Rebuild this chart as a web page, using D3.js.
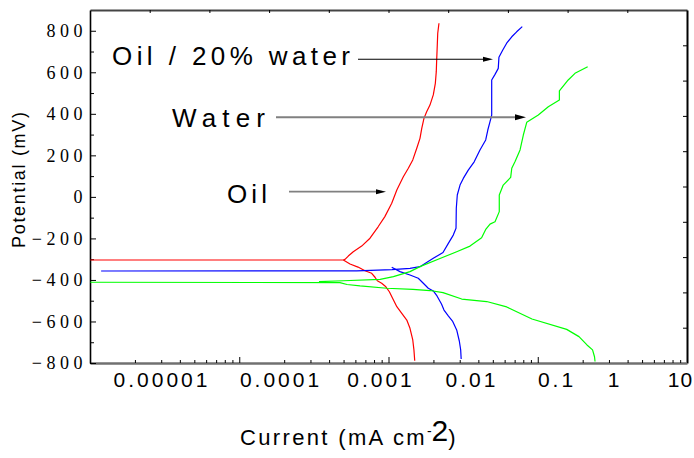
<!DOCTYPE html>
<html><head><meta charset="utf-8">
<script src="https://cdn.jsdelivr.net/npm/d3@7"></script>
<style>
body{margin:0;background:#fff;}
svg{display:block;}
</style></head><body>
<svg id="chart" width="694" height="458"></svg>
<script>
// ---------- data ----------
const xTickValues = [1e-5, 1e-4, 1e-3, 1e-2, 1e-1, 1, 10];
const xTickLabels = ["0.00001", "0.0001", "0.001", "0.01", "0.1", "1", "10"];
const yTickValues = [-800, -600, -400, -200, 0, 200, 400, 600, 800];
const yMinorTickValues = [-700, -500, -300, -100, 100, 300, 500, 700];
const annotationLabels = ["Oil / 20% water", "Water", "Oil"];

// Oil (red)
const oilCathodicCurrent = [4.40e-4, 5.13e-4, 6.17e-4, 7.24e-4, 8.45e-4, 9.12e-4, 9.62e-4, 1.07e-3, 1.19e-3, 1.30e-3, 1.41e-3, 1.57e-3, 1.78e-3, 2.02e-3, 2.19e-3, 2.35e-3, 2.42e-3, 2.47e-3];
const oilCathodicPotential = [-304, -323, -338, -356, -368, -387, -404, -416, -433, -457, -488, -529, -561, -593, -633, -689, -737, -789];
const oilAnodicCurrent = [2.6e-6, 4.40e-4, 4.57e-4, 4.93e-4, 5.53e-4, 6.71e-4, 8.13e-4, 9.8e-4, 1.16e-3, 1.38e-3, 1.57e-3, 1.85e-3, 2.10e-3, 2.35e-3, 2.60e-3, 2.82e-3, 2.95e-3, 3.12e-3, 3.34e-3, 3.63e-3, 3.95e-3, 4.16e-3, 4.26e-3, 4.31e-3, 4.37e-3, 4.42e-3, 4.56e-3];
const oilAnodicPotential = [-304, -304, -301, -285, -264, -237, -199, -144, -95, -31, 33, 97, 138, 178, 234, 282, 330, 378, 410, 442, 491, 547, 603, 667, 731, 788, 836];

// Oil / 20% water (blue)
const mixCathodicCurrent = [1.38e-3, 1.70e-3, 2.19e-3, 2.70e-3, 3.07e-3, 3.48e-3, 3.95e-3, 4.34e-3, 4.86e-3, 5.18e-3, 5.80e-3, 6.42e-3, 7.14e-3, 7.63e-3, 7.90e-3, 8.00e-3];
const mixCathodicPotential = [-339, -360, -376, -392, -416, -440, -453, -477, -516, -545, -574, -598, -641, -694, -737, -781];
const mixAnodicCurrent = [3.2e-6, 5.98e-4, 1.39e-3, 2.19e-3, 2.82e-3, 3.95e-3, 5.05e-3, 5.78e-3, 6.55e-3, 7.02e-3, 7.07e-3, 7.25e-3, 7.77e-3, 8.44e-3, 9.57e-3, 0.0112, 0.0131, 0.0153, 0.0162, 0.0172, 0.0180, 0.0180, 0.0180, 0.0197, 0.0215, 0.0219, 0.0243, 0.0270, 0.0310, 0.0354, 0.0412];
const mixAnodicPotential = [-357, -356, -350, -344, -336, -296, -268, -224, -184, -151, -55, 9, 57, 89, 129, 169, 226, 274, 322, 362, 394, 491, 563, 590, 619, 672, 707, 740, 771, 795, 820];

// Water (green)
const waterCathodicCurrent = [2.6e-6, 4.07e-4, 4.79e-4, 6.46e-4, 1.22e-3, 2.36e-3, 3.63e-3, 5.05e-3, 8.11e-3, 0.0157, 0.0270, 0.0536, 0.159, 0.259, 0.356, 0.444, 0.480, 0.490];
const waterCathodicPotential = [-411, -413, -422, -429, -440, -445, -451, -461, -492, -504, -530, -588, -638, -673, -713, -737, -770, -793];
const waterAnodicCurrent = [2.51e-4, 4.40e-4, 1.03e-3, 1.44e-3, 2.19e-3, 2.82e-3, 4.68e-3, 7.14e-3, 0.0100, 0.0137, 0.0154, 0.0172, 0.0197, 0.0221, 0.0221, 0.0246, 0.0301, 0.0310, 0.0338, 0.0388, 0.0424, 0.0465, 0.0636, 0.0834, 0.119, 0.119, 0.169, 0.221, 0.366];
const waterAnodicPotential = [-408, -404, -397, -384, -360, -336, -297, -264, -237, -197, -155, -131, -120, -71, 9, 57, 94, 138, 169, 226, 298, 359, 394, 434, 467, 510, 563, 595, 627];

// ---------- layout ----------
const L = 90, R = 687, T = 10, B = 363;
const svg = d3.select('#chart');
const sans = "'Liberation Sans', Arial, sans-serif";
const serif = "'Liberation Serif', 'Times New Roman', serif";

// data x scale (piecewise log, matching the printed labels)
const x = d3.scaleLog().domain(xTickValues).range([160, 279, 379, 470, 555, 613, 680]);
const y = d3.scaleLinear().domain([-800, 900]).range([B, T]);

// frame tick scales
const xFrame = d3.scaleLog().domain([1, 1e4]).range([L, R]);
const topScale = d3.scaleLinear().domain([0, 10]).range([L, R]);
const rightScale = d3.scaleLinear().domain([0, 10]).range([B, T]);

// top axis
const gTop = svg.append('g').attr('transform', `translate(0,${T})`)
  .call(d3.axisTop(topScale).tickValues(d3.range(1, 10)).tickSizeInner(-3).tickSizeOuter(0).tickFormat(''));
gTop.select('.domain').attr('stroke', '#444').attr('stroke-width', 2);
gTop.selectAll('.tick line').attr('stroke', '#000');

// right axis
const gRight = svg.append('g').attr('transform', `translate(${R},0)`)
  .call(d3.axisRight(rightScale).tickValues(d3.range(1, 10)).tickSizeInner(-4).tickSizeOuter(0).tickFormat(''));
gRight.select('.domain').attr('stroke', '#000').attr('stroke-width', 2);

// bottom frame ticks
const gBot = svg.append('g').attr('transform', `translate(0,${B})`)
  .call(d3.axisBottom(xFrame).tickSizeInner(-3).tickSizeOuter(0).tickFormat(''));
gBot.selectAll('.tick line')
  .attr('y2', d => (Math.abs(Math.log10(d) - Math.round(Math.log10(d))) < 1e-9 ? -6 : -3))
  .attr('stroke', '#000');
gBot.select('.domain').attr('stroke', '#707070').attr('stroke-width', 2.5);

// x tick labels
const gXLab = svg.append('g').attr('transform', `translate(0,${B})`)
  .call(d3.axisBottom(x).tickValues(xTickValues).tickFormat((d, i) => xTickLabels[i]).tickSize(0).tickPadding(9));
gXLab.select('.domain').remove();
gXLab.selectAll('text')
  .style('font-family', sans).style('font-size', '21px')
  .style('letter-spacing', (d, i) => i === xTickLabels.length - 1 ? '1px' : '3px')
  .attr('dx', (d, i) => i === xTickLabels.length - 1 ? 0 : 1.5).attr('fill', '#000');

// left axis
const gLeft = svg.append('g').attr('transform', `translate(${L},0)`)
  .call(d3.axisLeft(y).tickValues(yTickValues).tickSizeInner(-6).tickSizeOuter(0).tickPadding(3));
gLeft.select('.domain').attr('stroke', '#000').attr('stroke-width', 1.6);
gLeft.selectAll('text')
  .style('font-family', serif).style('font-size', '18px').style('letter-spacing', '4.5px').attr('fill', '#000');
const gLeftMinor = svg.append('g').attr('transform', `translate(${L},0)`)
  .call(d3.axisLeft(y).tickValues(yMinorTickValues).tickSize(-4).tickFormat(''));
gLeftMinor.select('.domain').remove();

// curves
const line = d3.line().x(d => x(d[0])).y(d => y(d[1]));
const series = [
  [oilCathodicCurrent, oilCathodicPotential, '#ff0000'],
  [oilAnodicCurrent, oilAnodicPotential, '#ff0000'],
  [mixCathodicCurrent, mixCathodicPotential, '#0000ff'],
  [mixAnodicCurrent, mixAnodicPotential, '#0000ff'],
  [waterCathodicCurrent, waterCathodicPotential, '#00ff00'],
  [waterAnodicCurrent, waterAnodicPotential, '#00ff00']
];
svg.append('g').selectAll('path').data(series).join('path')
  .attr('d', s => line(d3.zip(s[0], s[1])))
  .attr('fill', 'none').attr('stroke', s => s[2]).attr('stroke-width', 1.2)
  .attr('stroke-linejoin', 'round');

// annotations
const ann = svg.append('g').style('font-family', sans).style('font-size', '26px').attr('fill', '#000');
ann.append('text').attr('x', 112).attr('y', 65).attr('textLength', 238).attr('lengthAdjust', 'spacing').text(annotationLabels[0]);
ann.append('text').attr('x', 172).attr('y', 127).attr('textLength', 93).attr('lengthAdjust', 'spacing').text(annotationLabels[1]);
ann.append('text').attr('x', 227).attr('y', 203).attr('textLength', 40).attr('lengthAdjust', 'spacing').text(annotationLabels[2]);

function arrow(x1, x2, yy, color, w, headLen, headHalf) {
  svg.append('line').attr('x1', x1).attr('x2', x2 - headLen + 1).attr('y1', yy).attr('y2', yy)
    .attr('stroke', color).attr('stroke-width', w);
  svg.append('path').attr('d', `M${x2},${yy}L${x2 - headLen},${yy - headHalf}L${x2 - headLen},${yy + headHalf}Z`).attr('fill', '#000');
}
arrow(358, 493, 59.3, '#000', 1.1, 10, 2.5);
arrow(276, 526, 117.3, '#808080', 2, 11, 3);
arrow(289, 386, 191.7, '#808080', 1.8, 10, 2.5);

// axis titles
svg.append('text').attr('transform', 'translate(25,180) rotate(-90)').attr('text-anchor', 'middle')
  .style('font-family', sans).style('font-size', '18px').attr('textLength', 136).attr('lengthAdjust', 'spacing')
  .attr('fill', '#000').text('Potential (mV)');
const xt = svg.append('text').attr('x', 240).attr('y', 445)
  .style('font-family', sans).style('font-size', '22px').style('letter-spacing', '2.35px').attr('fill', '#000');
xt.append('tspan').text('Current (mA cm');
xt.append('tspan').attr('dy', -9).style('font-size', '14px').style('letter-spacing', '0px').text('-');
xt.append('tspan').attr('dy', 5).style('font-size', '30px').style('letter-spacing', '0px').text('2');
xt.append('tspan').attr('dy', 4).style('font-size', '22px').style('letter-spacing', '0px').text(')');
</script>
</body></html>
